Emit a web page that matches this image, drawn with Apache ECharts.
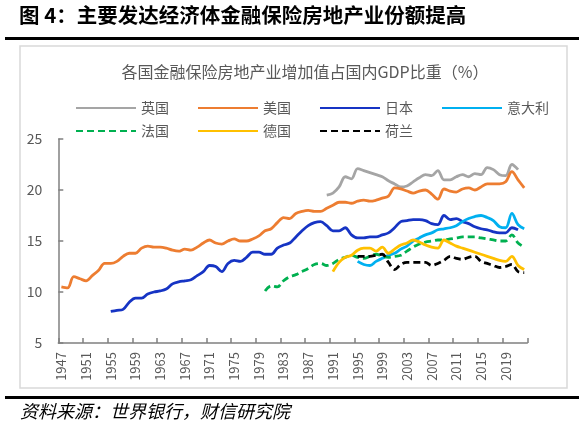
<!DOCTYPE html>
<html>
<head>
<meta charset="utf-8">
<script src="https://cdn.jsdelivr.net/npm/echarts@6/dist/echarts.min.js"></script>
<style>
html,body{margin:0;padding:0;background:#fff;}
#chart{width:584px;height:435px;}
</style>
</head>
<body>
<div id="chart"></div>
<script>
var years = ['1947','1948','1949','1950','1951','1952','1953','1954','1955','1956',
'1957','1958','1959','1960','1961','1962','1963','1964','1965','1966',
'1967','1968','1969','1970','1971','1972','1973','1974','1975','1976',
'1977','1978','1979','1980','1981','1982','1983','1984','1985','1986',
'1987','1988','1989','1990','1991','1992','1993','1994','1995','1996',
'1997','1998','1999','2000','2001','2002','2003','2004','2005','2006',
'2007','2008','2009','2010','2011','2012','2013','2014','2015','2016',
'2017','2018','2019','2020','2021','2022'];

var yTicks = [5, 10, 15, 20, 25];

var usStart = '1947';
var usValues = [10.5,10.4,11.5,11.3,11.1,11.6,12.1,12.8,12.8,13.0,
13.5,13.8,13.8,14.3,14.5,14.4,14.4,14.3,14.1,14.0,
14.2,14.1,14.4,14.8,15.1,14.8,14.7,15.0,15.2,15.0,
15.0,15.2,15.5,16.0,16.2,16.8,17.3,17.2,17.7,17.9,
18.0,17.9,17.9,18.2,18.5,18.8,18.8,18.7,18.9,19.0,
18.9,19.0,19.2,19.4,20.2,20.1,19.9,19.7,19.9,20.0,
19.6,19.1,20.1,19.9,19.8,20.1,20.2,20.0,20.3,20.6,
20.6,20.6,20.8,21.8,21.0,20.2];

var jpStart = '1955';
var jpValues = [8.1,8.2,8.3,9.0,9.4,9.4,9.8,10.0,10.1,10.3,
10.8,11.0,11.1,11.2,11.6,12.0,12.6,12.5,12.0,12.8,
13.1,13.0,13.4,13.9,13.9,13.7,13.7,14.3,14.6,14.8,
15.4,16.0,16.5,16.8,16.9,16.5,16.0,16.0,16.3,15.6,
15.3,15.3,15.4,15.4,15.6,15.8,16.3,16.9,17.0,17.1,
17.1,17.0,16.7,16.6,17.5,17.1,17.2,16.9,16.7,16.4,
16.2,16.1,15.9,15.8,15.8,16.3,16.1];

var ukStart = '1990';
var ukValues = [19.5,19.7,20.3,21.3,21.1,22.1,21.9,21.7,21.5,21.3,
20.9,20.6,20.3,20.4,20.8,21.2,21.5,21.4,21.9,21.0,
21.0,21.3,21.5,21.3,21.6,21.5,22.2,22.0,21.5,21.4,
22.5,22.0];

var itStart = '1995';
var itValues = [13.0,12.7,12.6,13.0,13.3,13.6,13.8,14.2,14.5,15.0,
15.3,15.6,15.8,16.1,16.2,16.3,16.5,16.9,17.2,17.4,
17.5,17.3,17.0,16.4,16.3,17.7,16.6,16.2];

var frStart = '1980';
var frValues = [10.1,10.6,10.5,11.1,11.5,11.7,12.0,12.3,12.7,12.8,
12.6,12.8,13.2,13.4,13.6,13.4,13.3,13.5,13.7,13.5,
13.4,13.5,13.6,14.0,14.4,14.7,14.9,15.0,15.1,15.1,
15.2,15.3,15.4,15.4,15.4,15.3,15.2,15.1,15.0,15.0,
15.6,14.8,14.4];

var deStart = '1991';
var deValues = [12.0,12.9,13.4,13.6,14.1,14.3,14.3,14.0,14.4,13.8,
14.2,14.6,14.8,15.1,14.9,14.6,14.4,14.3,15.1,14.8,
14.5,14.3,14.1,13.9,13.7,13.5,13.3,13.1,13.0,13.5,
12.6,12.2];

var nlStart = '1995';
var nlValues = [13.5,13.5,13.5,13.6,13.7,12.9,12.2,12.7,12.9,12.9,
12.9,12.9,12.6,12.8,13.1,13.5,13.3,13.2,13.4,13.5,
13.0,12.8,12.6,12.4,12.5,12.7,12.0,11.9];

function pad(start, vals) {
  var out = [];
  var s = years.indexOf(start);
  for (var i = 0; i < years.length; i++) {
    var k = i - s;
    out.push(k >= 0 && k < vals.length ? vals[k] : null);
  }
  return out;
}

var FONT = '"Noto Sans CJK SC", "Noto Sans", sans-serif';
var TXT = '#595959';

function line(name, start, vals, color, dashed) {
  return {
    name: name, type: 'line', data: pad(start, vals),
    symbol: 'none', smooth: 0.35, connectNulls: false,
    lineStyle: { color: color, width: 2.8, type: dashed ? [7, 4] : 'solid' },
    itemStyle: { color: color },
    z: 3
  };
}

var legendCommon = {
  padding: 0, itemWidth: 60, itemHeight: 14, itemGap: 28, itemTextGap: 7,
  itemStyle: { opacity: 0, borderWidth: 0 },
  textStyle: { fontSize: 14, color: TXT, fontFamily: FONT }
};

var chart = echarts.init(document.getElementById('chart'), null, { renderer: 'canvas' });
chart.setOption({
  animation: false,
  backgroundColor: '#ffffff',
  textStyle: { fontFamily: FONT },
  graphic: [
    { type: 'text', left: 19, top: 5, style: { text: '图 4：主要发达经济体金融保险房地产业份额提高', font: 'bold 20.5px "Noto Sans CJK SC", sans-serif', fill: '#000' } },
    { type: 'rect', shape: { x: 5, y: 37, width: 574, height: 3 }, style: { fill: '#000' } },
    { type: 'rect', shape: { x: 20, y: 46, width: 547, height: 342 }, style: { fill: 'none', stroke: '#d9d9d9', lineWidth: 1.5 } },
    { type: 'rect', shape: { x: 5, y: 396, width: 574, height: 3 }, style: { fill: '#000' } },
    { type: 'text', left: 20, top: 402, style: { text: '资料来源：世界银行，财信研究院', font: 'italic 18px "Noto Sans CJK SC", sans-serif', fill: '#000' } },
    { type: 'text', x: 305, y: 72, style: { text: '各国金融保险房地产业增加值占国内GDP比重（%）', font: '16px "Noto Sans CJK SC", sans-serif', fill: TXT, align: 'center', verticalAlign: 'middle' } }
  ],
  legend: [
    Object.assign({ data: ['英国', '美国', '日本', '意大利'], left: 75, top: 101 }, legendCommon),
    Object.assign({ data: ['法国', '德国', '荷兰'], left: 75, top: 124 }, legendCommon)
  ],
  grid: { left: 58.3, right: 56.7, top: 139, bottom: 92, containLabel: false },
  xAxis: {
    type: 'category', data: years, boundaryGap: true,
    axisLine: { show: true, lineStyle: { color: '#808080', width: 1.5 } },
    axisTick: { show: true, inside: true, length: 5, interval: 3, lineStyle: { color: '#808080', width: 1.5 } },
    axisLabel: { interval: 3, rotate: 90, fontSize: 13, color: TXT, margin: 9, fontFamily: FONT },
    splitLine: { show: false }
  },
  yAxis: {
    type: 'value', min: yTicks[0], max: yTicks[yTicks.length - 1], interval: 5,
    axisLine: { show: true, lineStyle: { color: '#808080', width: 1.5 } },
    axisTick: { show: true, inside: true, length: 5, lineStyle: { color: '#808080', width: 1.5 } },
    axisLabel: { fontSize: 14, color: TXT, margin: 16, fontFamily: FONT },
    splitLine: { show: false }
  },
  series: [
    line('英国', ukStart, ukValues, '#A5A5A5', false),
    line('美国', usStart, usValues, '#ED7D31', false),
    line('日本', jpStart, jpValues, '#1634C4', false),
    line('意大利', itStart, itValues, '#00B0F0', false),
    line('法国', frStart, frValues, '#00B050', true),
    line('德国', deStart, deValues, '#FFC000', false),
    line('荷兰', nlStart, nlValues, '#000000', true)
  ]
});
</script>
</body>
</html>
